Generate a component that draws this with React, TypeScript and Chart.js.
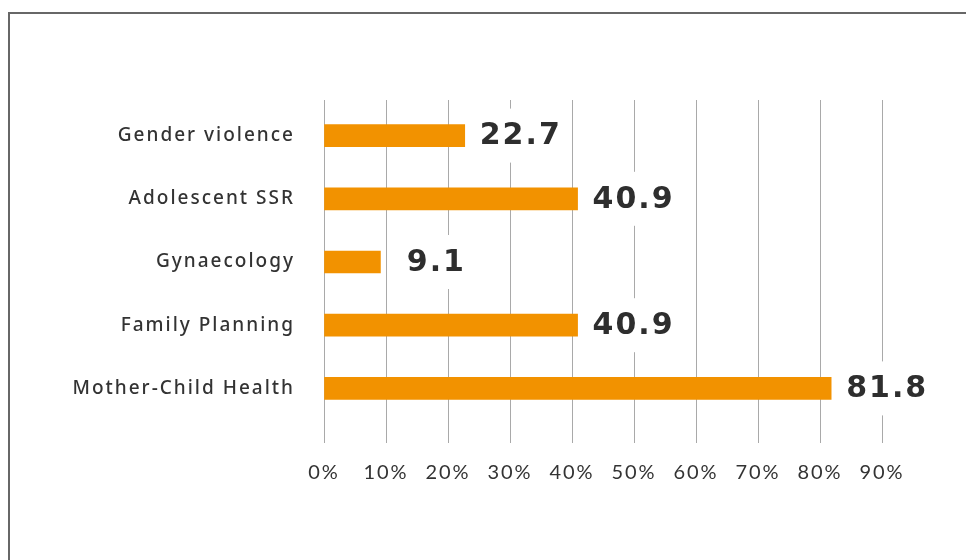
import React, { useEffect, useRef } from "react";
import { Chart, registerables } from "chart.js";

Chart.register(...registerables);

const categories = [
  "Gender violence",
  "Adolescent SSR",
  "Gynaecology",
  "Family Planning",
  "Mother-Child Health",
];
const values = [22.7, 40.9, 9.1, 40.9, 81.8];
const valueLabels = ["22.7", "40.9", "9.1", "40.9", "81.8"];
const xMin = 0;
const xMax = 90;
const xStep = 10;

const valueLabelPlugin = {
  id: "valueLabels",
  beforeDraw(chart: any) {
    chart.ctx.letterSpacing = "2px";
  },
  afterDatasetsDraw(chart: any) {
    const ctx = chart.ctx;
    const meta = chart.getDatasetMeta(0);
    ctx.save();
    ctx.font = "bold 30px 'DejaVu Sans'";
    ctx.letterSpacing = "2px";
    ctx.textAlign = "center";
    ctx.textBaseline = "middle";
    meta.data.forEach((bar: any, i: number) => {
      const txt = valueLabels[i];
      const w = ctx.measureText(txt).width;
      const cx = bar.x + 55;
      const cy = bar.y;
      ctx.fillStyle = "#ffffff";
      ctx.fillRect(cx - w / 2 - 4, cy - 27, w + 8, 54);
      ctx.fillStyle = "#2e2e2e";
      ctx.fillText(txt, cx + 1, cy + 1);
    });
    ctx.restore();
  },
};

export default function App() {
  const ref = useRef<HTMLCanvasElement | null>(null);

  useEffect(() => {
    if (!ref.current) return;
    const chart = new Chart(ref.current, {
      type: "bar",
      data: {
        labels: categories,
        datasets: [
          {
            data: values,
            backgroundColor: "#f29200",
            borderWidth: 0,
            barThickness: 22,
          },
        ],
      },
      options: {
        indexAxis: "y",
        responsive: false,
        animation: false,
        devicePixelRatio: 1,
        layout: { padding: { left: 0, right: 84, top: 100, bottom: 0 } },
        plugins: {
          legend: { display: false },
          tooltip: { enabled: false },
        },
        scales: {
          y: {
            grid: { display: false },
            border: { display: false },
            ticks: {
              padding: 21,
              color: "#333333",
              font: { family: "'Noto Sans'", size: 19, weight: "500" as any },
            },
            afterFit: (s: any) => {
              s.width = 324;
            },
          },
          x: {
            min: xMin,
            max: xMax,
            grid: { color: "#a9a9a9", lineWidth: 1, tickLength: 23, drawTicks: true },
            border: { display: false },
            ticks: {
              stepSize: xStep,
              padding: 18,
              color: "#333333",
              font: { family: "Lato", size: 20 },
              callback: (v: any) => v + "%",
            },
            afterFit: (s: any) => {
              s.height = 140;
            },
          },
          xTop: {
            type: "linear",
            axis: "x",
            position: "top",
            min: xMin,
            max: xMax,
            grid: { color: "#a9a9a9", lineWidth: 1, tickLength: 4, drawTicks: true },
            border: { display: false },
            ticks: { stepSize: xStep, display: false },
            afterFit: (s: any) => {
              s.height = 4;
            },
          },
        },
      },
      plugins: [valueLabelPlugin],
    });
    return () => chart.destroy();
  }, []);

  return (
    <div>
      <div
        style={{
          position: "fixed",
          left: 8,
          top: 12,
          width: 958,
          height: 548,
          boxSizing: "border-box",
          borderTop: "2px solid #676767",
          borderLeft: "2px solid #676767",
          background: "#ffffff",
        }}
      />
      <canvas
        ref={ref}
        width={966}
        height={560}
        style={{ position: "fixed", left: 0, top: 0, width: 966, height: 560 }}
      />
    </div>
  );
}
